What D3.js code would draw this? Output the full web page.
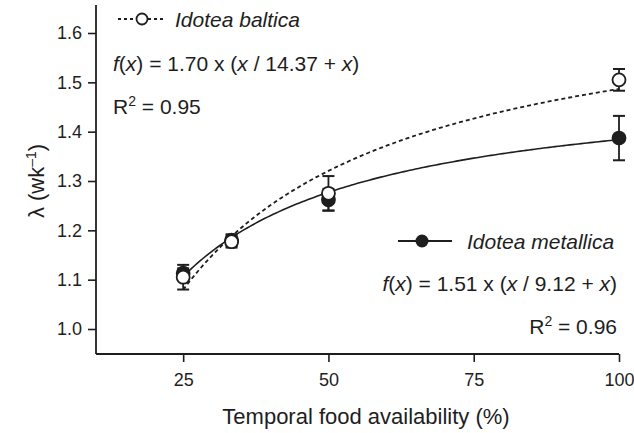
<!DOCTYPE html>
<html><head><meta charset="utf-8">
<script src="https://cdn.jsdelivr.net/npm/d3@7"></script>
<style>body{margin:0;background:#fff}svg{display:block;font-family:"Liberation Sans",Arial,sans-serif}</style>
</head><body><svg id="c" width="634" height="433"></svg>
<script>
const foodAvail = [25, 33.33, 50, 100];
const balticaMean = [1.105, 1.177, 1.275, 1.505];
const balticaErr  = [0.025, 0.012, 0.035, 0.022];
const metallicaMean = [1.113, 1.180, 1.262, 1.387];
const metallicaErr  = [0.010, 0.012, 0.022, 0.045];
const fitA = {baltica: 1.70, metallica: 1.51};
const fitK = {baltica: 14.37, metallica: 9.12};
const xTicks = [25, 50, 75, 100];
const yTicks = [1.0, 1.1, 1.2, 1.3, 1.4, 1.5, 1.6];

const svg = d3.select("#c");
const x = d3.scaleLinear().domain([10, 100]).range([96, 619]);
const y = d3.scaleLinear().domain([1.0, 1.6]).range([329, 33]);
const yBottom = 354, yTop = 5;
const ink = "#1e1e1e";

// axes
const xAxis = svg.append("g").attr("transform", `translate(0,${yBottom})`)
  .call(d3.axisBottom(x).tickValues(xTicks).tickSize(8).tickPadding(11).tickSizeOuter(0));
const yAxis = svg.append("g").attr("transform", `translate(${x.range()[0]},0)`)
  .call(d3.axisLeft(y).tickValues(yTicks).tickFormat(d3.format(".1f")).tickSize(8).tickPadding(6).tickSizeOuter(0));
[xAxis, yAxis].forEach(g => {
  g.select(".domain").remove();
  g.selectAll(".tick line").attr("stroke", ink).attr("stroke-width", 1.6);
  g.selectAll(".tick text").attr("fill", ink).style("font-size", "18px").style("font-family", "Liberation Sans, Arial, sans-serif");
});
svg.append("line").attr("x1", x.range()[0]).attr("x2", x.range()[1]).attr("y1", yBottom).attr("y2", yBottom).attr("stroke", ink).attr("stroke-width", 1.8);
svg.append("line").attr("x1", x.range()[0]).attr("x2", x.range()[0]).attr("y1", yTop).attr("y2", yBottom).attr("stroke", ink).attr("stroke-width", 1.8);

// axis titles
svg.append("text").attr("x", 366).attr("y", 424).attr("text-anchor", "middle")
  .style("font-size", "22px").attr("fill", ink).text("Temporal food availability (%)");
const yl = svg.append("text").attr("transform", "translate(44,181) rotate(-90)").attr("text-anchor", "middle")
  .style("font-size", "22px").attr("fill", ink);
yl.append("tspan").text("λ (wk");
yl.append("tspan").attr("dy", -8).style("font-size", "14px").text("–1");
yl.append("tspan").attr("dy", 8).text(")");

// fitted curves
const curveX = d3.range(25, 100.01, 0.5);
function fitLine(key) {
  return d3.line().x(d => x(d)).y(d => y(fitA[key] * d / (fitK[key] + d)))(curveX);
}
svg.append("path").attr("d", fitLine("baltica")).attr("fill", "none").attr("stroke", ink)
  .attr("stroke-width", 1.8).attr("stroke-dasharray", "4,3");
svg.append("path").attr("d", fitLine("metallica")).attr("fill", "none").attr("stroke", ink)
  .attr("stroke-width", 1.6);

function drawPoints(means, errs, filled) {
  const g = svg.append("g");
  means.forEach((m, i) => {
    const cx = x(foodAvail[i]);
    const y1 = y(m + errs[i]), y2 = y(m - errs[i]);
    g.append("line").attr("x1", cx).attr("x2", cx).attr("y1", y1).attr("y2", y2).attr("stroke", ink).attr("stroke-width", 1.8);
    [y1, y2].forEach(yy => g.append("line").attr("x1", cx - 6).attr("x2", cx + 6).attr("y1", yy).attr("y2", yy).attr("stroke", ink).attr("stroke-width", 2));
  });
  means.forEach((m, i) => {
    g.append("circle").attr("cx", x(foodAvail[i])).attr("cy", y(m)).attr("r", 6.5)
      .attr("fill", filled ? ink : "#fff").attr("stroke", ink).attr("stroke-width", 1.8);
  });
}
drawPoints(metallicaMean, metallicaErr, true);
drawPoints(balticaMean, balticaErr, false);

// legend: baltica
svg.append("line").attr("x1", 118).attr("x2", 166).attr("y1", 19).attr("y2", 19).attr("stroke", ink).attr("stroke-width", 1.8).attr("stroke-dasharray", "3,3");
svg.append("circle").attr("cx", 142).attr("cy", 19).attr("r", 5.5).attr("fill", "#fff").attr("stroke", ink).attr("stroke-width", 1.8);
svg.append("text").attr("x", 175).attr("y", 27).style("font-size", "21px").style("font-style", "italic").attr("fill", ink).text("Idotea baltica");

function formula(tx, ty, anchor, a, k) {
  const t = svg.append("text").attr("x", tx).attr("y", ty).attr("text-anchor", anchor).style("font-size", "21px").attr("fill", ink);
  t.append("tspan").style("font-style", "italic").text("f");
  t.append("tspan").text("(");
  t.append("tspan").style("font-style", "italic").text("x");
  t.append("tspan").text(`) = ${a} x (`);
  t.append("tspan").style("font-style", "italic").text("x");
  t.append("tspan").text(` / ${k} + `);
  t.append("tspan").style("font-style", "italic").text("x");
  t.append("tspan").text(")");
}
function rsq(tx, ty, anchor, v) {
  const t = svg.append("text").attr("x", tx).attr("y", ty).attr("text-anchor", anchor).style("font-size", "21px").attr("fill", ink);
  t.append("tspan").text("R");
  t.append("tspan").attr("dy", -8).style("font-size", "14px").text("2");
  t.append("tspan").attr("dy", 8).text(` = ${v}`);
}
formula(113, 71, "start", "1.70", "14.37");
rsq(113, 114, "start", "0.95");

// legend: metallica
svg.append("line").attr("x1", 398).attr("x2", 452).attr("y1", 241).attr("y2", 241).attr("stroke", ink).attr("stroke-width", 1.8);
svg.append("circle").attr("cx", 422).attr("cy", 241).attr("r", 6.5).attr("fill", ink);
svg.append("text").attr("x", 467).attr("y", 249).style("font-size", "21px").style("font-style", "italic").attr("fill", ink).text("Idotea metallica");
formula(617, 291, "end", "1.51", "9.12");
rsq(617, 334, "end", "0.96");
</script></body></html>
